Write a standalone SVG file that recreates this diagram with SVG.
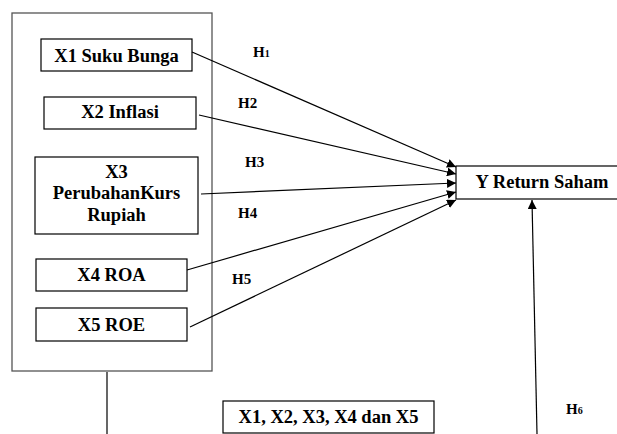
<svg xmlns="http://www.w3.org/2000/svg" width="617" height="434" viewBox="0 0 617 434">
<style>
.b{fill:#fff;stroke:#000;stroke-width:1.2}
.t{font-family:"Liberation Serif","Times New Roman",serif;font-weight:bold;font-size:18.5px;fill:#000;text-anchor:middle}
.h{font-family:"Liberation Serif","Times New Roman",serif;font-weight:bold;font-size:15px;fill:#000}
.c{stroke:#000;stroke-width:1.2;fill:none}
</style>
<defs>
<marker id="ah" viewBox="0 0 10 10" refX="10" refY="5" markerWidth="9" markerHeight="9" markerUnits="userSpaceOnUse" orient="auto">
<path d="M0,0L10,5L0,10z" fill="#000"/>
</marker>
</defs>
<rect width="617" height="434" fill="#fff"/>
<g id="outer"><rect x="12" y="13" width="200" height="358" fill="none" stroke="#555" stroke-width="1.3"/></g>
<g id="x1"><rect class="b" x="41" y="39" width="151" height="32"/><text class="t" x="116.5" y="62">X1 Suku Bunga</text></g>
<g id="x2"><rect class="b" x="44" y="97" width="152" height="32"/><text class="t" x="120" y="118">X2 Inflasi</text></g>
<g id="x3"><rect class="b" x="35" y="157" width="163" height="77"/><text class="t" x="116.5" y="178">X3</text><text class="t" x="116.5" y="199">PerubahanKurs</text><text class="t" x="116.5" y="221">Rupiah</text></g>
<g id="x4"><rect class="b" x="36" y="259" width="151" height="32"/><text class="t" x="111.5" y="281">X4 ROA</text></g>
<g id="x5"><rect class="b" x="36" y="308" width="151" height="33"/><text class="t" x="111.5" y="331">X5 ROE</text></g>
<g id="y"><rect class="b" x="456" y="166" width="166" height="33"/><text class="t" x="542" y="188">Y Return Saham</text></g>
<g id="xall"><rect class="b" x="223" y="401" width="211" height="32"/><text class="t" x="328.5" y="423">X1, X2, X3, X4 dan X5</text></g>
<g id="connectors">
<line class="c" x1="192" y1="52" x2="456" y2="167" marker-end="url(#ah)"/>
<line class="c" x1="199" y1="115" x2="456" y2="174" marker-end="url(#ah)"/>
<line class="c" x1="201" y1="194" x2="456" y2="183" marker-end="url(#ah)"/>
<line class="c" x1="187" y1="270" x2="456" y2="192" marker-end="url(#ah)"/>
<line class="c" x1="190" y1="327" x2="456" y2="200" marker-end="url(#ah)"/>
<line class="c" x1="537" y1="434" x2="532" y2="200" marker-end="url(#ah)"/>
<line class="c" x1="107" y1="372" x2="107" y2="434"/>
</g>
<g id="labels">
<text class="h" x="253" y="57">H<tspan font-size="10">1</tspan></text>
<text class="h" x="238" y="108">H2</text>
<text class="h" x="245" y="167">H3</text>
<text class="h" x="238" y="218">H4</text>
<text class="h" x="232" y="284">H5</text>
<text class="h" x="566" y="414">H<tspan font-size="10">6</tspan></text>
</g>
</svg>
